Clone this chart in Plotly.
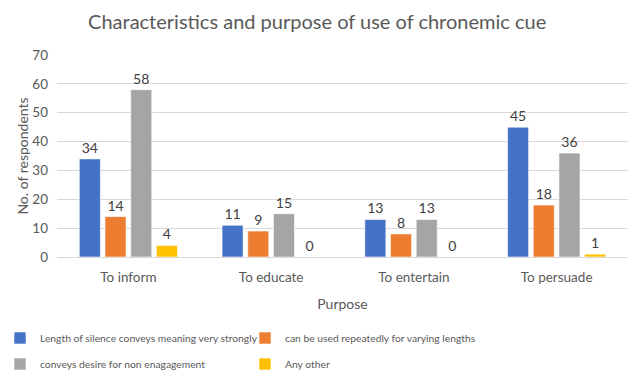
import plotly.graph_objects as go

categories = ["To inform", "To educate", "To entertain", "To persuade"]
series_names = [
    "Length of silence conveys meaning very strongly",
    "can be used repeatedly for varying lengths",
    "conveys desire for non enagagement",
    "Any other",
]
s1 = [34, 11, 13, 45]
s2 = [14, 9, 8, 18]
s3 = [58, 15, 13, 36]
s4 = [4, 0, 0, 1]
colors = ["#4472C4", "#ED7D31", "#A5A5A5", "#FFC000"]
y_ticks = [0, 10, 20, 30, 40, 50, 60, 70]

FONT = "Lato"
fig = go.Figure()
legends = ["legend", "legend", "legend2", "legend2"]
for name, vals, col, lg in zip(series_names, [s1, s2, s3, s4], colors, legends):
    fig.add_trace(go.Bar(
        x=categories, y=vals, name=name, marker_color=col,
        marker_line=dict(color="rgba(255,255,255,0.6)", width=1),
        text=[str(v) for v in vals], textposition="outside",
        textfont=dict(family=FONT, size=14, color="#404040"),
        cliponaxis=False, legend=lg,
    ))

leg_common = dict(orientation="h", xref="container", yref="container",
                  xanchor="left", yanchor="middle",
                  entrywidth=200, entrywidthmode="pixels", itemwidth=30,
                  font=dict(family=FONT, size=10.3, color="#595959"),
                  bgcolor="rgba(0,0,0,0)")

fig.update_layout(
    width=628, height=370,
    margin=dict(l=57, r=0, t=55, b=113, autoexpand=False),
    paper_bgcolor="white", plot_bgcolor="white",
    title=dict(text="Characteristics and purpose of use of chronemic cue",
               x=0.505, xanchor="center", y=0.94, yanchor="middle",
               font=dict(family=FONT, size=20, color="#595959")),
    barmode="group", bargap=0.28, bargroupgap=0.18,
    font=dict(family=FONT, size=13, color="#595959"),
    xaxis=dict(range=[-0.5, 3.5], showgrid=False, showline=True, linecolor="#D9D9D9",
               ticks="", ticklabelstandoff=8, automargin=False,
               tickfont=dict(family=FONT, size=13.5, color="#595959"),
               title=dict(text="Purpose", standoff=14,
                          font=dict(family=FONT, size=14, color="#595959"))),
    yaxis=dict(range=[0, 70], tickvals=y_ticks, showgrid=True, gridcolor="#D9D9D9",
               zeroline=False, showline=False, ticks="", ticklen=0, automargin=False,
               ticklabelstandoff=8,
               tickfont=dict(family=FONT, size=13.5, color="#595959"),
               title=dict(text="No. of respondents", standoff=0,
                          font=dict(family=FONT, size=14, color="#595959"))),
    legend=dict(x=0.0, y=1 - 338 / 370, **leg_common),
    legend2=dict(x=0.0, y=1 - 364 / 370, **leg_common),
)

fig.write_html("out.html")
